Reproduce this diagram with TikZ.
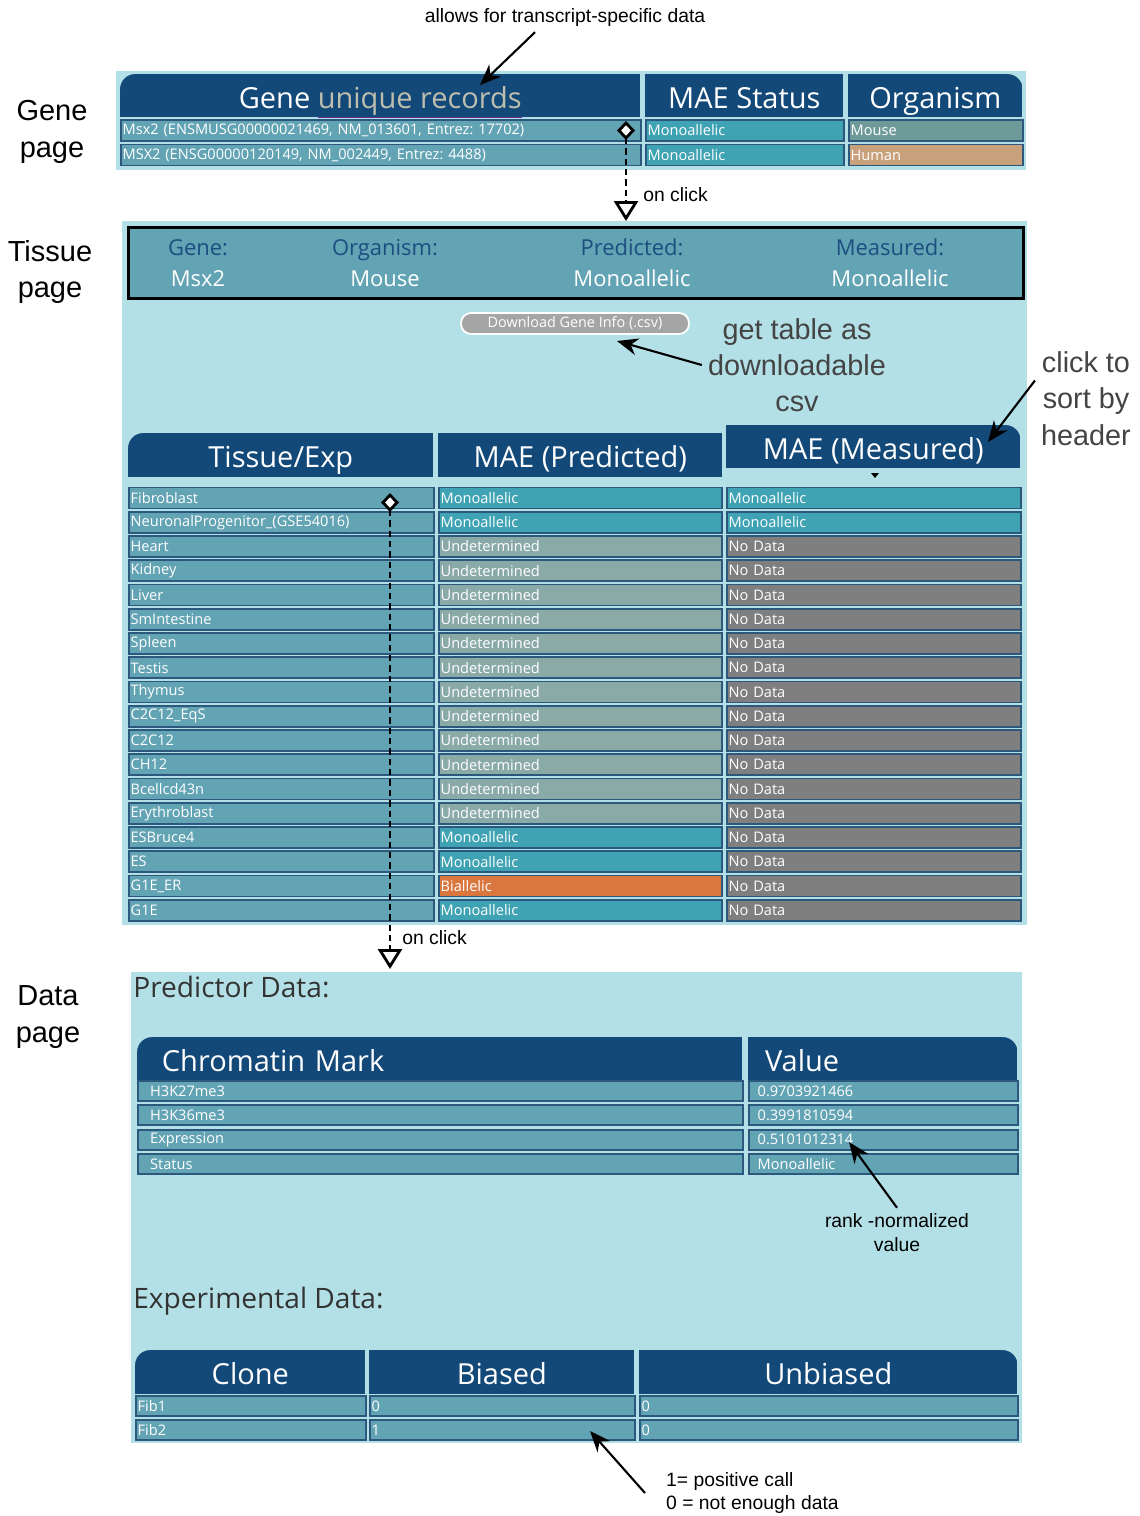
\documentclass[tikz,border=0pt]{standalone}
\usepackage{fontspec}
\setmainfont{Open Sans}
\newfontfamily\notefont{Liberation Sans}
\usepackage{tikz}
\usetikzlibrary{positioning,arrows.meta}
\frenchspacing

\definecolor{hdrblue}{RGB}{19,73,121}
\definecolor{pagebg}{RGB}{179,224,230}
\definecolor{plaincell}{RGB}{98,163,180}
\definecolor{monocell}{RGB}{64,163,179}
\definecolor{undetcell}{RGB}{138,170,168}
\definecolor{nodatacell}{RGB}{127,127,127}
\definecolor{bialcell}{RGB}{218,119,63}
\definecolor{mousecell}{RGB}{110,154,153}
\definecolor{humancell}{RGB}{200,160,124}
\definecolor{cellline}{RGB}{44,88,126}
\definecolor{sumlabel}{RGB}{28,79,128}
\definecolor{notegray}{RGB}{68,68,68}
\definecolor{titlegray}{RGB}{51,51,51}
\definecolor{btngray}{RGB}{165,165,165}
\definecolor{uline}{RGB}{110,40,140}
\definecolor{ulgray}{RGB}{190,190,175}

\begin{document}
\begin{tikzpicture}[x=0.02cm, y=-0.02cm, >=Stealth,
    pagebox/.style={fill=pagebg, inner sep=0pt, anchor=north west},
    hdrcell/.style={fill=hdrblue, text=white, inner sep=0pt, anchor=north west,
      minimum height=0.86cm, text height=0.6cm, text depth=0.1cm,
      font=\fontsize{16.5}{18}\selectfont},
    tcell/.style={draw=cellline, line width=1pt, fill=plaincell, text=white,
      anchor=west, inner sep=0pt, minimum height=0.42cm, align=left,
      font=\fontsize{8.3}{9}\selectfont, execute at begin node={\hspace*{#1}}},
    tcell/.default=1pt,
    Monoallelic/.style={fill=monocell},
    Undetermined/.style={fill=undetcell},
    Biallelic/.style={fill=bialcell},
    No Data/.style={fill=nodatacell},
    notetext/.style={font=\notefont\fontsize{11}{13.6}\selectfont, align=center},
    bignote/.style={font=\notefont\fontsize{16.4}{20.6}\selectfont, align=center, text=notegray},
    sidelabel/.style={font=\notefont\fontsize{16.5}{21}\selectfont, align=center},
    sectitle/.style={font=\fontsize{16}{18}\selectfont, text=titlegray, anchor=west, inner sep=0pt},
    sumlbl/.style={font=\fontsize{12.5}{14}\selectfont, text=sumlabel, text height=0.32cm, text depth=0.08cm},
    sumval/.style={font=\fontsize{12.5}{14}\selectfont, text=white, text height=0.32cm, text depth=0.08cm},
    dlbutton/.style={fill=btngray, draw=white, line width=1pt, rounded corners=0.2cm,
      minimum width=4.56cm, minimum height=0.42cm, inner sep=0pt, text=white,
      font=\fontsize{8.2}{9}\selectfont},
    notearrow/.style={-{Stealth[length=0.42cm,width=0.34cm]}, line width=1.2pt},
    clickarrow/.style={{Diamond[fill=white,length=0.38cm,width=0.36cm]}-{Triangle[fill=white,length=0.4cm,width=0.48cm]},
      dash pattern=on 3.6pt off 2.3pt, line width=1.6pt}]
\useasboundingbox (0,0) rectangle (1140,1516);

% side labels
\node[sidelabel] (lgene) at (52,132) {Gene\\page};
\node[sidelabel] (ltissue) at (50,272) {Tissue\\page};
\node[sidelabel] (ldata) at (48,1017) {Data\\page};

% gene page
\node[pagebox, minimum width=18.2cm, minimum height=1.98cm] (genebg) at (116,71) {};
\node[hdrcell, minimum width=10.4cm] (gh1) at (120,74) {Gene \textcolor{uline}{\underline{\textcolor{ulgray}{unique records}}}};
\node[hdrcell, minimum width=3.96cm] (gh2) at (645,74) {MAE Status};
\node[hdrcell, minimum width=3.48cm] (gh3) at (848,74) {Organism};
\node[tcell, text width=10.4cm] (g1a) at (120,130.5) {Msx2 (ENSMUSG00000021469, NM\_013601, Entrez: 17702)};
\node[tcell, Monoallelic, text width=3.96cm] (g1b) at (645,130.5) {Monoallelic};
\node[tcell, fill=mousecell, text width=3.48cm] (g1c) at (848,130.5) {Mouse};
\node[tcell, text width=10.4cm] (g2a) at (120,155) {MSX2 (ENSG00000120149, NM\_002449, Entrez: 4488)};
\node[tcell, Monoallelic, text width=3.96cm] (g2b) at (645,155) {Monoallelic};
\node[tcell, fill=humancell, text width=3.48cm] (g2c) at (848,155) {Human};

% tissue page
\node[pagebox, minimum width=18.1cm, minimum height=14.08cm] (tissuebg) at (122,221) {};
\node[pagebox, draw=black, line width=1.7pt, fill=plaincell, minimum width=17.9cm, minimum height=1.42cm] (sumbox) at (127,226) {};
\foreach \x/\l/\v [count=\k] in {198/Gene:/Msx2, 385/Organism:/Mouse, 632/Predicted:/Monoallelic, 890/Measured:/Monoallelic}{
  \node[sumlbl] (sl\k) at (\x,249) {\l};
  \node[sumval] (sv\k) at (\x,280) {\v};
}
\node[dlbutton] (dl) at (575,323.5) {Download Gene Info (.csv)};
\node[bignote] (gettbl) at (797,365) {get table as\\downloadable\\csv};

\node[hdrcell, minimum width=6.1cm, minimum height=0.88cm] (th1) at (128,433) {Tissue/Exp};
\node[hdrcell, minimum width=5.68cm, minimum height=0.88cm] (th2) at (438,433) {MAE (Predicted)};
\node[hdrcell, minimum width=5.88cm] (th3) at (726,425) {MAE (Measured)};
\fill (871,473) -- (879,473) -- (875,478) -- cycle;

\foreach \tis/\pred/\meas [count=\i from 0] in {
    Fibroblast/Monoallelic/Monoallelic,
    {NeuronalProgenitor\_(GSE54016)}/Monoallelic/Monoallelic,
    Heart/Undetermined/No Data, Kidney/Undetermined/No Data,
    Liver/Undetermined/No Data, SmIntestine/Undetermined/No Data,
    Spleen/Undetermined/No Data, Testis/Undetermined/No Data,
    Thymus/Undetermined/No Data, C2C12\_EqS/Undetermined/No Data,
    C2C12/Undetermined/No Data, CH12/Undetermined/No Data,
    Bcellcd43n/Undetermined/No Data, Erythroblast/Undetermined/No Data,
    ESBruce4/Monoallelic/No Data, ES/Monoallelic/No Data,
    G1E\_ER/Biallelic/No Data, G1E/Monoallelic/No Data}{
  \pgfmathsetmacro\ry{498+24.25*\i}
  \node[tcell, text width=6.1cm] (tt\i) at (128,\ry) {\tis};
  \node[tcell, \pred, text width=5.66cm] (tp\i) at (438,\ry) {\pred};
  \node[tcell, \meas, text width=5.88cm] (tm\i) at (726,\ry) {\meas};
}
\node[bignote] (sortnote) at (1086,398.5) {click to\\sort by\\header};

% data page
\node[pagebox, minimum width=17.82cm, minimum height=9.42cm] (databg) at (131,972) {};
\node[sectitle] (predtitle) at (133,987) {Predictor Data:};
\node[hdrcell, text width=12.1cm, align=left, execute at begin node={\hspace*{14pt}}] (ch1) at (137,1037) {Chromatin Mark};
\node[hdrcell, text width=5.38cm, align=left, execute at begin node={\hspace*{9.5pt}}] (ch2) at (748,1037) {Value};
\foreach \m/\v [count=\k from 0] in {H3K27me3/0.9703921466, H3K36me3/0.3991810594, Expression/0.5101012314, Status/Monoallelic}{
  \pgfmathsetmacro\ry{1091+24.33*\k}
  \node[tcell=7pt, text width=12.1cm, minimum height=0.4cm] (cm\k) at (137,\ry) {\m};
  \node[tcell=5pt, text width=5.38cm, minimum height=0.4cm] (cv\k) at (748,\ry) {\v};
}
\node[notetext] (rank) at (897,1233) {rank -normalized\\value};

\node[sectitle] (exptitle) at (133,1301) {Experimental Data:};
\node[hdrcell, minimum width=4.6cm, minimum height=0.88cm] (kh1) at (135,1350) {Clone};
\node[hdrcell, minimum width=5.3cm, minimum height=0.88cm] (kh2) at (369,1350) {Biased};
\node[hdrcell, minimum width=7.56cm, minimum height=0.88cm] (kh3) at (639,1350) {Unbiased};
\foreach \c/\b/\u [count=\k from 0] in {Fib1/0/0, Fib2/1/0}{
  \pgfmathsetmacro\ry{1406+24*\k}
  \node[tcell, text width=4.6cm, minimum height=0.4cm] (kc\k) at (135,\ry) {\c};
  \node[tcell, text width=5.3cm, minimum height=0.4cm] (kb\k) at (369,\ry) {\b};
  \node[tcell, text width=7.56cm, minimum height=0.4cm] (ku\k) at (639,\ry) {\u};
}
\node[notetext, align=left, anchor=west] (callnote) at (660,1493) {1= positive call\\0 = not enough data};

% rounded header corners
\foreach \n in {gh1,th1,ch1,kh1}
  \fill[pagebg] (\n.north west) -- ([xshift=0.3cm]\n.north west) arc[start angle=90, end angle=180, radius=0.3cm] -- cycle;
\foreach \n in {gh3,th3,ch2,kh3}
  \fill[pagebg] (\n.north east) -- ([yshift=-0.3cm]\n.north east) arc[start angle=0, end angle=90, radius=0.3cm] -- cycle;

% annotations
\node[notetext] (allows) at (565,17) {allows for transcript-specific data};
\coordinate (tipgene) at (480,85);
\coordinate (tipdl) at (617,341);
\coordinate (tipsort) at (988,442);
\coordinate (tiprank) at (849,1142);
\coordinate (tipcall) at (590,1431);
\draw[notearrow] ([xshift=-0.6cm]allows.south) -- (tipgene);
\draw[notearrow] (gettbl.west) -- (tipdl);
\draw[notearrow] ([yshift=0.36cm]sortnote.west) -- (tipsort);
\draw[notearrow] (rank.north) -- (tiprank);
\draw[notearrow] ([xshift=-0.3cm]callnote.west) -- (tipcall);

% on click links
\coordinate (sel1) at (626,121);
\coordinate (sel2) at (390,493);
\draw[clickarrow] (sel1) -- ([yshift=0.1cm]sumbox.north -| sel1) node[notetext, pos=0.74, right=0.2cm] (clk1) {on click};
\draw[clickarrow] (sel2) -- ([yshift=0.06cm]databg.north -| sel2) node[notetext, pos=0.935, right=0.1cm] (clk2) {on click};
\end{tikzpicture}
\end{document}
